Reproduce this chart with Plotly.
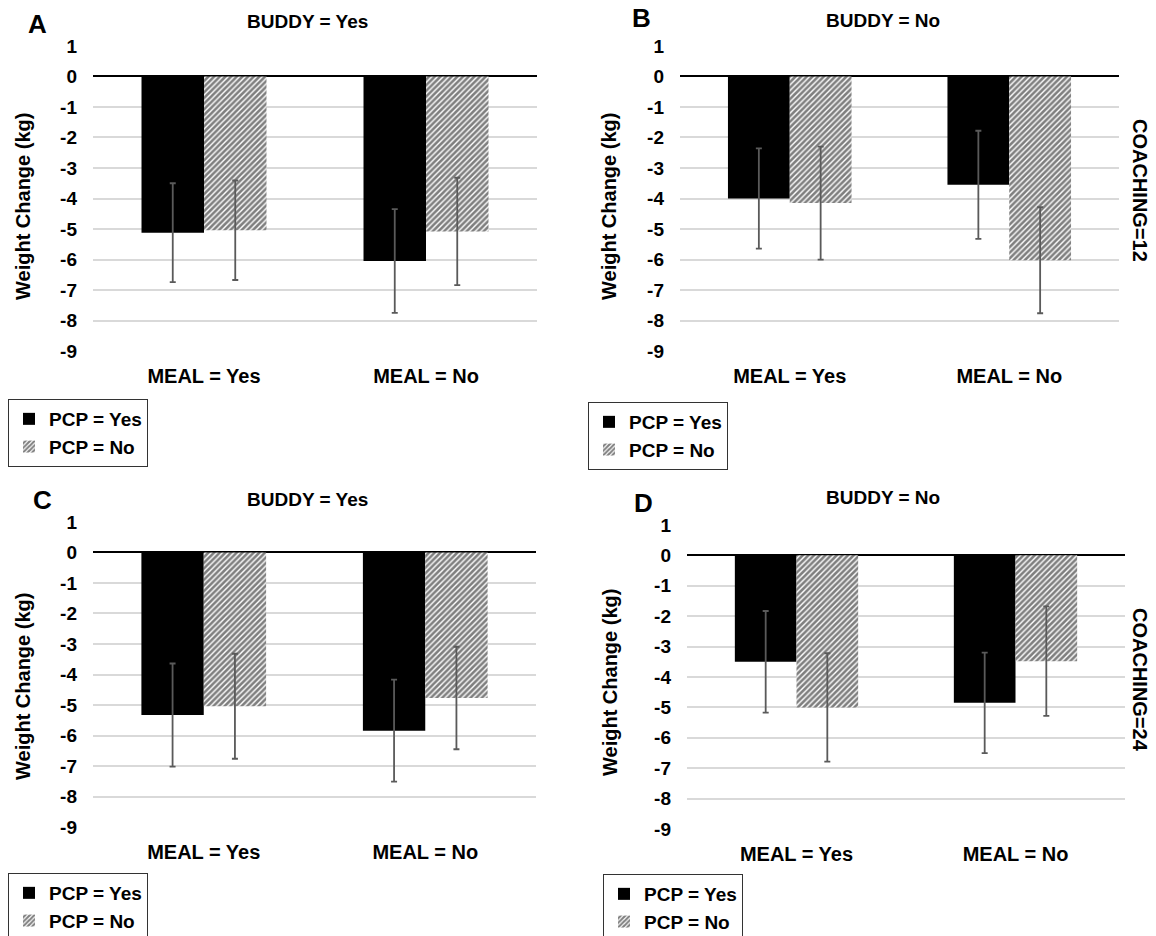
import plotly.graph_objects as go

# ---------------- data ----------------
meal = ["MEAL = Yes", "MEAL = No"]
series_names = ["PCP = Yes", "PCP = No"]

A_pcp_yes = [-5.12, -6.05]
A_pcp_yes_err = [1.62, 1.70]
A_pcp_no = [-5.04, -5.08]
A_pcp_no_err = [1.63, 1.76]

B_pcp_yes = [-4.00, -3.55]
B_pcp_yes_err = [1.64, 1.77]
B_pcp_no = [-4.15, -6.02]
B_pcp_no_err = [1.85, 1.74]

C_pcp_yes = [-5.33, -5.84]
C_pcp_yes_err = [1.69, 1.67]
C_pcp_no = [-5.04, -4.77]
C_pcp_no_err = [1.72, 1.68]

D_pcp_yes = [-3.50, -4.85]
D_pcp_yes_err = [1.67, 1.65]
D_pcp_no = [-5.00, -3.48]
D_pcp_no_err = [1.78, 1.80]

panel_letters = ["A", "B", "C", "D"]
panel_titles = ["BUDDY = Yes", "BUDDY = No", "BUDDY = Yes", "BUDDY = No"]
row_labels = ["COACHING=12", "COACHING=24"]
y_title = "Weight Change (kg)"
y_ticks = list(range(-9, 2))
y_tick_text = [str(v) for v in y_ticks]

# ---------------- layout geometry (pixels) ----------------
W, H = 1156, 936
FONT = "Liberation Sans, Arial, sans-serif"

panels = [
    dict(vals=(A_pcp_yes, A_pcp_yes_err, A_pcp_no, A_pcp_no_err), x=(93, 537), y=(45, 352),
         letter=(37, 24), title=(308, 21), ytitle=(23, 207), legend=(8, 399)),
    dict(vals=(B_pcp_yes, B_pcp_yes_err, B_pcp_no, B_pcp_no_err), x=(680, 1119), y=(45, 352),
         letter=(641, 18), title=(883, 20), ytitle=(609, 207), legend=(588, 402)),
    dict(vals=(C_pcp_yes, C_pcp_yes_err, C_pcp_no, C_pcp_no_err), x=(93, 536), y=(521, 828),
         letter=(42, 500), title=(307, 499), ytitle=(23, 687), legend=(8, 873)),
    dict(vals=(D_pcp_yes, D_pcp_yes_err, D_pcp_no, D_pcp_no_err), x=(687, 1125), y=(524, 830),
         letter=(643, 503), title=(883, 497), ytitle=(610, 683), legend=(603, 874)),
]
row_label_pos = [(1140, 190), (1140, 680)]


def px(x):
    return x / W


def py(y):
    return 1 - y / H


fig = go.Figure()
annotations = []
layout_updates = {}

for i, p in enumerate(panels):
    n = "" if i == 0 else str(i + 1)
    xa, ya = "x" + n, "y" + n
    leg = "legend" + n
    yes, yes_err, no, no_err = p["vals"]
    fig.add_trace(go.Bar(
        x=meal, y=yes, name=series_names[0], xaxis=xa, yaxis=ya, legend=leg,
        marker=dict(color="black", line=dict(width=0)),
        error_y=dict(type="data", array=yes_err, color="#5a5a5a", thickness=1.8, width=3),
    ))
    fig.add_trace(go.Bar(
        x=meal, y=no, name=series_names[1], xaxis=xa, yaxis=ya, legend=leg,
        marker=dict(color="white", line=dict(width=0),
                    pattern=dict(shape="/", fgcolor="black", bgcolor="white", size=4, solidity=0.65)),
        error_y=dict(type="data", array=no_err, color="#5a5a5a", thickness=1.8, width=3),
    ))
    layout_updates["xaxis" + n] = dict(
        domain=[px(p["x"][0]), px(p["x"][1])], anchor=ya,
        showline=False, ticks="", showgrid=False, zeroline=False,
        tickfont=dict(family=FONT, size=20, color="black", weight="bold"),
        ticklabelstandoff=10, fixedrange=True,
    )
    layout_updates["yaxis" + n] = dict(
        domain=[py(p["y"][1]), py(p["y"][0])], anchor=xa,
        range=[-9.03, 1.03], tickvals=y_ticks, ticktext=y_tick_text,
        showgrid=True, gridcolor="#d9d9d9", gridwidth=1.5,
        zeroline=True, zerolinecolor="black", zerolinewidth=2,
        showline=False, ticks="",
        tickfont=dict(family=FONT, size=19, color="black", weight="bold"),
        ticklabelstandoff=15, fixedrange=True,
    )
    layout_updates[leg] = dict(
        x=px(p["legend"][0]), y=py(p["legend"][1]), xanchor="left", yanchor="top",
        bordercolor="#333333", borderwidth=1, bgcolor="white",
        font=dict(family=FONT, size=19, color="black", weight="bold"),
        tracegroupgap=0, itemwidth=30,
    )
    annotations.append(dict(text=panel_letters[i], x=px(p["letter"][0]), y=py(p["letter"][1]),
                            xref="paper", yref="paper", showarrow=False, xanchor="center", yanchor="middle",
                            font=dict(family=FONT, size=26, color="black", weight="bold")))
    annotations.append(dict(text=panel_titles[i], x=px(p["title"][0]), y=py(p["title"][1]),
                            xref="paper", yref="paper", showarrow=False, xanchor="center", yanchor="middle",
                            font=dict(family=FONT, size=19, color="black", weight="bold")))
    annotations.append(dict(text=y_title, x=px(p["ytitle"][0]), y=py(p["ytitle"][1]), textangle=-90,
                            xref="paper", yref="paper", showarrow=False, xanchor="center", yanchor="middle",
                            font=dict(family=FONT, size=20, color="black", weight="bold")))

for lbl, (lx, ly) in zip(row_labels, row_label_pos):
    annotations.append(dict(text=lbl, x=px(lx), y=py(ly), textangle=90,
                            xref="paper", yref="paper", showarrow=False, xanchor="center", yanchor="middle",
                            font=dict(family=FONT, size=20, color="black", weight="bold")))

fig.update_layout(
    width=W, height=H, margin=dict(l=0, r=0, t=0, b=0, autoexpand=False),
    paper_bgcolor="white", plot_bgcolor="white",
    barmode="group", bargap=0.437, bargroupgap=0,
    showlegend=True, annotations=annotations,
    font=dict(family=FONT, color="black"),
    **layout_updates,
)

fig.write_html("out.html", config={"displayModeBar": False},
               post_script="document.body.style.margin='0';")
